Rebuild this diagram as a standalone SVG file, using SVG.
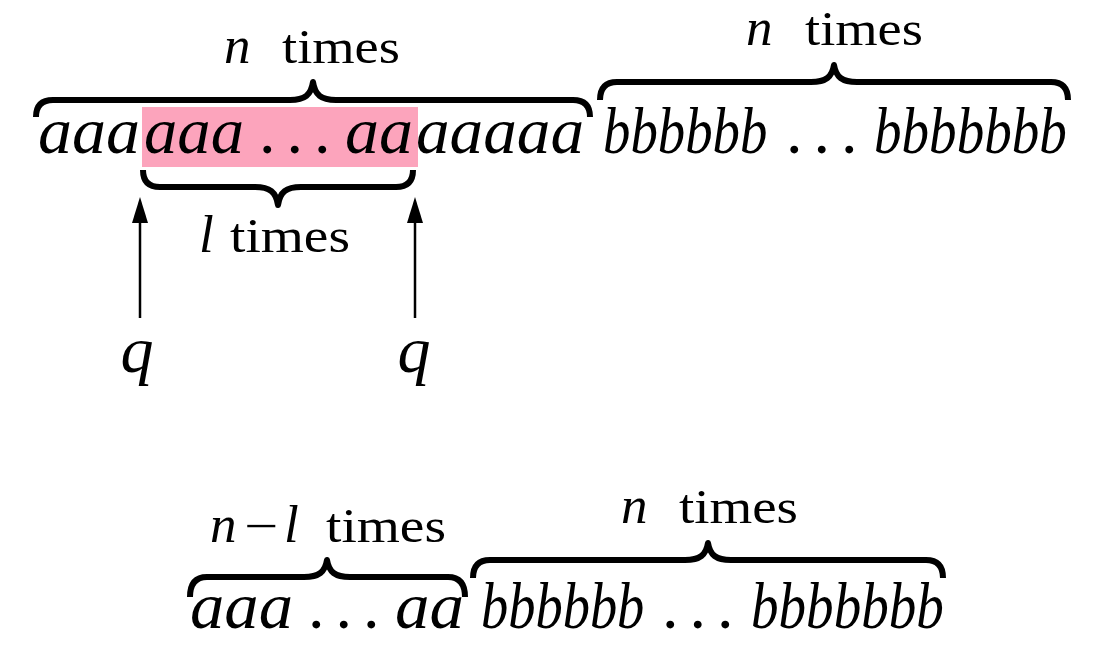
<svg xmlns="http://www.w3.org/2000/svg" width="1114" height="670" viewBox="0 0 1114 670">
<defs>
<style>
.m{font-family:"Liberation Serif","DejaVu Serif",serif;font-style:italic;font-size:66px;fill:#000}
.d{font-family:"Liberation Serif","DejaVu Serif",serif;font-size:66px;letter-spacing:11px;fill:#000}
.r{font-family:"Liberation Serif","DejaVu Serif",serif;font-size:48px;fill:#000}
.ri{font-family:"Liberation Serif","DejaVu Serif",serif;font-style:italic;font-size:53px;fill:#000}
.brace{fill:none;stroke:#000;stroke-width:6;stroke-linecap:butt;stroke-linejoin:round}
.arrow{fill:none;stroke:#000;stroke-width:2.5}
</style>
<marker id="ah" viewBox="0 0 26 16" refX="16" refY="8" markerUnits="userSpaceOnUse" markerWidth="26" markerHeight="16" orient="auto">
<path d="M0 0 L26 8 L0 16 Z" fill="#000"/>
</marker>
</defs>
<rect width="1114" height="670" fill="#fff"/>

<g id="highlight">
<rect x="142" y="107" width="276" height="60" fill="#FCA4BC"/>
</g>

<g id="top-a-string">
<text class="m" x="38" y="153" textLength="102" lengthAdjust="spacingAndGlyphs">aaa</text>
<text class="m" x="144" y="153" textLength="100" lengthAdjust="spacingAndGlyphs">aaa</text>
<text class="d" x="259" y="153">...</text>
<text class="m" x="345" y="153" textLength="68" lengthAdjust="spacingAndGlyphs">aa</text>
<text class="m" x="416" y="153" textLength="168" lengthAdjust="spacingAndGlyphs">aaaaa</text>
</g>

<g id="top-b-string">
<text class="m" transform="translate(603 153) scale(0.83 1)">bbbbbb</text>
<text class="d" x="786" y="153">...</text>
<text class="m" transform="translate(874 153) scale(0.835 1)">bbbbbbb</text>
</g>

<g id="brace-top-a">
<path class="brace" d="M36 117 Q36 100 53 100 L290 100 C305 100 311 95 313 82 C315 95 321 100 336 100 L573 100 Q590 100 590 117"/>
<text class="ri" x="224" y="63">n</text>
<text class="r" x="282" y="63" textLength="118" lengthAdjust="spacingAndGlyphs">times</text>
</g>

<g id="brace-top-b">
<path class="brace" d="M600 100 Q600 82 617 82 L811 82 C826 82 832 77 834 65 C836 77 842 82 857 82 L1051 82 Q1068 82 1068 100"/>
<text class="ri" x="746" y="45">n</text>
<text class="r" x="805" y="45" textLength="118" lengthAdjust="spacingAndGlyphs">times</text>
</g>

<g id="brace-l">
<path class="brace" d="M143 170 Q143 187 160 187 L255 187 C270 187 276 192 278 205 C280 192 286 187 301 187 L396 187 Q413 187 413 170"/>
<text class="ri" x="199" y="252">l</text>
<text class="r" x="230" y="252" textLength="120" lengthAdjust="spacingAndGlyphs">times</text>
</g>

<g id="q-left">
<text class="m" x="137" y="372" text-anchor="middle">q</text>
</g>
<g id="q-right">
<text class="m" x="414" y="372" text-anchor="middle">q</text>
</g>

<g id="connectors">
<line class="arrow" x1="140" y1="318" x2="140" y2="207" marker-end="url(#ah)"/>
<line class="arrow" x1="415" y1="318" x2="415" y2="207" marker-end="url(#ah)"/>
</g>

<g id="bottom-a-string">
<text class="m" x="190" y="628" textLength="103" lengthAdjust="spacingAndGlyphs">aaa</text>
<text class="d" x="308" y="628">...</text>
<text class="m" x="395" y="628" textLength="69" lengthAdjust="spacingAndGlyphs">aa</text>
</g>

<g id="bottom-b-string">
<text class="m" transform="translate(481 628) scale(0.825 1)">bbbbbb</text>
<text class="d" x="662" y="628">...</text>
<text class="m" transform="translate(751 628) scale(0.835 1)">bbbbbbb</text>
</g>

<g id="brace-bottom-a">
<path class="brace" d="M190 597 Q190 577 207 577 L304 577 C319 577 325 572 327 560 C329 572 335 577 350 577 L448 577 Q465 577 465 597"/>
<text class="ri" x="210" y="542">n</text>
<text class="r" x="244" y="542" textLength="34" lengthAdjust="spacingAndGlyphs">−</text>
<text class="ri" x="284" y="542">l</text>
<text class="r" x="326" y="542" textLength="120" lengthAdjust="spacingAndGlyphs">times</text>
</g>

<g id="brace-bottom-b">
<path class="brace" d="M473 578 Q473 560 490 560 L685 560 C700 560 706 555 708 543 C710 555 716 560 731 560 L926 560 Q943 560 943 578"/>
<text class="ri" x="621" y="523">n</text>
<text class="r" x="679" y="523" textLength="119" lengthAdjust="spacingAndGlyphs">times</text>
</g>
</svg>
